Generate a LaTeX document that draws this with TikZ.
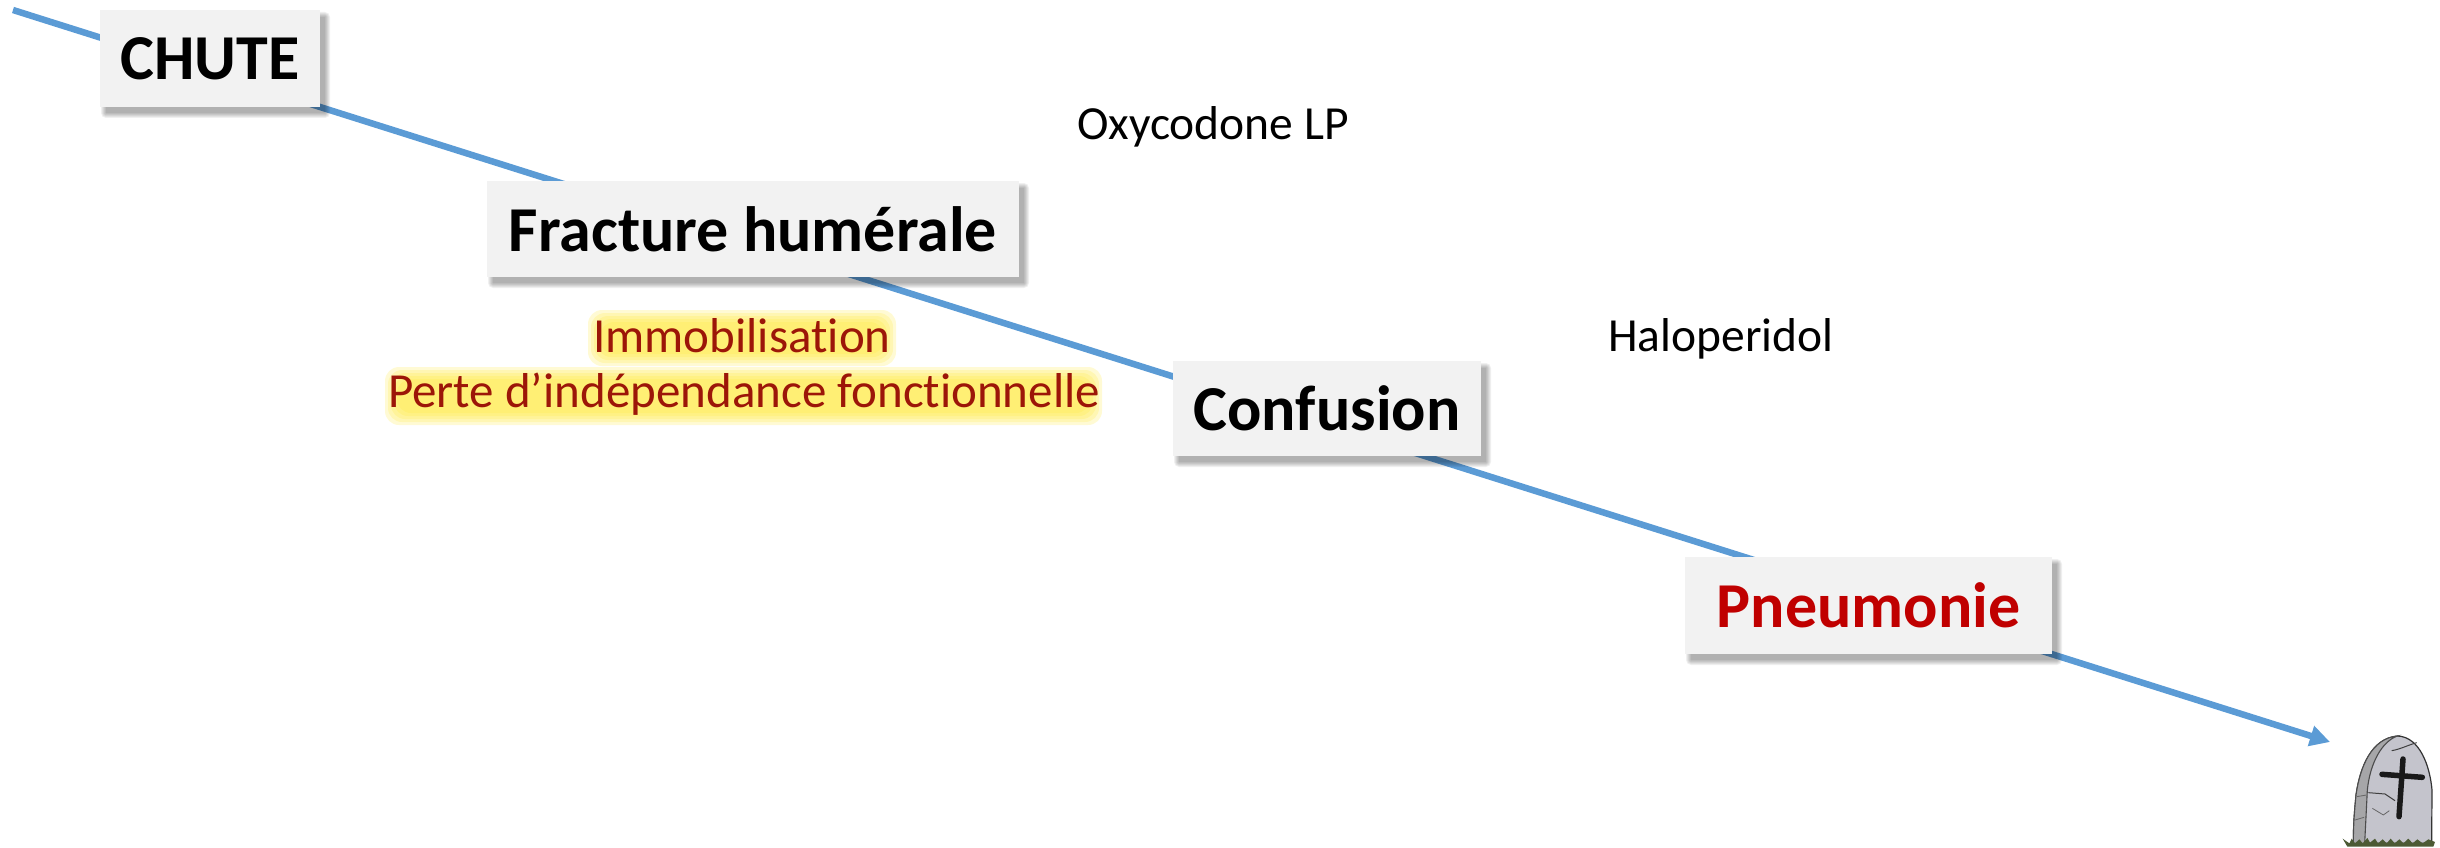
\documentclass[tikz,border=0pt]{standalone}
\usepackage{fontspec}
\setmainfont{Carlito}[Ligatures=NoCommon]
\usetikzlibrary{arrows.meta}
\definecolor{flow}{HTML}{5B9BD5}
\definecolor{boxgray}{HTML}{F2F2F2}
\definecolor{alert}{HTML}{C00000}
\definecolor{halo}{HTML}{FFE93C}
\definecolor{glowtext}{HTML}{9C1608}
\definecolor{stone}{HTML}{C4C4CC}
\definecolor{stoneside}{HTML}{A6A6A8}
\definecolor{grass}{HTML}{4C5A34}
\tikzset{
  x=1pt,y=-1pt,
  stepbox/.style={fill=boxgray,inner sep=0pt,font=\fontsize{64}{70}\selectfont\bfseries},
  plainlabel/.style={inner sep=0pt,font=\fontsize{47.5}{54}\selectfont},
  glowlabel/.style={inner sep=0pt,text=glowtext,font=\fontsize{49}{56}\selectfont},
  flowline/.style={draw=flow,line width=6.5pt,-{Triangle[length=20pt,width=20pt]}},
}
% x1 y1 x2 y2 : soft shadow below a box, to the right and underneath only
\newcommand{\softshadow}[4]{%
  \foreach \g in {5,4,3,2,1,0}{%
    \fill[black,opacity=0.06,rounded corners=\g pt]
      ({#1+6-\g},{#2+7-\g}) rectangle ({#3+5+\g},{#4+6+\g});}}
% x1 y1 x2 y2 : soft yellow halo behind a line of text
\newcommand{\softhalo}[4]{%
  \foreach \g in {12,9,6,3,0}{%
    \fill[halo,opacity=0.22,rounded corners=14pt]
      ({#1-\g},{#2-\g}) rectangle ({#3+\g},{#4+\g});}}
\begin{document}
\begin{tikzpicture}
\useasboundingbox (0,0) rectangle (2440,848);
\coordinate (flowstart) at (13,10);
\coordinate (flowend) at (2330,742);
\draw[flowline] (flowstart) -- (flowend);

\softshadow{100}{10}{320}{107}
\node[stepbox,minimum width=220pt,minimum height=97pt] (chute) at (210,58.5) {\raisebox{-1.5pt}{CHUTE}};
\softshadow{487}{181}{1019}{277}
\node[stepbox,minimum width=532pt,minimum height=96pt] (fracture) at (753,229) {\raisebox{-1pt}{Fracture humérale}};
\softshadow{1173}{361}{1481}{456}
\node[stepbox,minimum width=308pt,minimum height=95pt] (confusion) at (1327,408.5) {Confusion};
\softshadow{1685}{557}{2052}{654}
\node[stepbox,text=alert,minimum width=367pt,minimum height=97pt] (pneumonie) at (1868.5,605.5) {\raisebox{-1pt}{Pneumonie}};

\node[plainlabel] (oxy) at (1213,127) {Oxycodone LP};
\node[plainlabel] (halo) at (1721,339) {Haloperidol};

\softhalo{600}{322}{884}{354}
\softhalo{397}{379}{1090}{413}
\node[glowlabel] (immo) at (742,336) {Immobilisation};
\node[glowlabel] (perte) at (744,394) {Perte d’indépendance fonctionnelle};

% tombstone
\begin{scope}[shift={(2260,680)},x=0.3333pt,y=-0.3333pt]
  \filldraw[fill=stone,draw=black!80,line width=1.2pt]
    (280,490) .. controls (280,420) and (285,380) .. (288,345)
    .. controls (300,260) and (335,175) .. (412,168)
    .. controls (480,170) and (510,260) .. (516,330)
    -- (515,490) -- cycle;
  \filldraw[fill=stoneside,draw=black!70,line width=1.1pt]
    (280,490) .. controls (280,420) and (285,380) .. (288,345)
    .. controls (300,260) and (335,175) .. (412,168)
    .. controls (365,185) and (330,250) .. (322,330)
    -- (314,490) -- cycle;
  \draw[black!75,line width=1pt] (395,212) .. controls (420,208) and (445,195) .. (470,188);
  \draw[black!75,line width=1pt] (325,338) -- (375,342) -- (405,362);
  \draw[black!60,line width=0.8pt] (337,385) -- (370,405) -- (388,392);
  \draw[black!60,line width=0.8pt] (290,350) -- (320,345);
  \draw[black!60,line width=0.8pt] (285,420) -- (312,412);
  \draw[black!90,line width=5.5pt,line cap=round] (429,237) -- (417,410);
  \draw[black!90,line width=5.5pt,line cap=round] (366,283) -- (487,292);
  \fill[grass] (248,476) -- (268,490) -- (275,476) -- (285,490) -- (298,478) -- (308,490) -- (322,474)
    -- (330,488) -- (345,476) -- (354,490) -- (368,478) -- (380,490) -- (392,476) -- (404,490)
    -- (418,478) -- (430,490) -- (445,476) -- (458,490) -- (472,478) -- (488,490) -- (505,478)
    -- (525,486) -- (520,500) -- (262,500) -- cycle;
\end{scope}
\end{tikzpicture}
\end{document}
